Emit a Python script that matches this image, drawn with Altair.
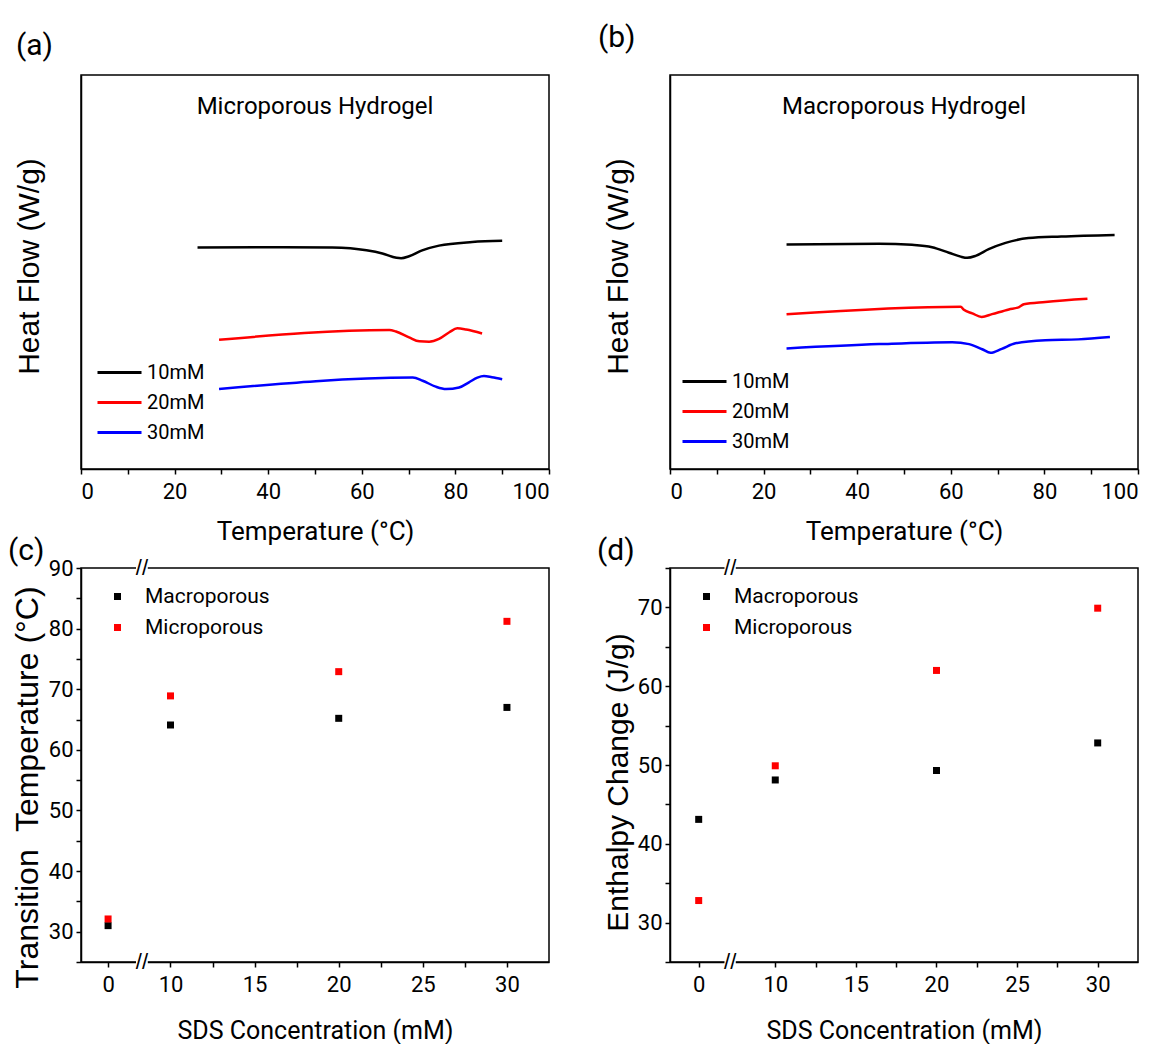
import altair as alt
import pandas as pd

NARROW = "Roboto"
WIDE = "Liberation Sans"

# ---------------- Panel (a): Microporous hydrogel DSC curves ----------------
a10_t = [24.9, 43.1, 53.7, 61.0, 64.4, 67.4, 68.4, 70.1, 72.9, 76.5, 83.6, 90.0]
a10_h = [56.2, 56.3, 56.2, 55.5, 54.7, 53.6, 53.5, 54.0, 55.5, 56.7, 57.6, 57.9]
a20_t = [29.5, 65.9, 67.3, 70.1, 72.3, 74.4, 76.5, 78.7, 80.4, 82.3, 85.7]
a20_h = [32.8, 35.3, 34.9, 33.4, 32.4, 32.3, 33.0, 34.7, 35.7, 35.4, 34.4]
a30_t = [29.5, 70.9, 73.0, 75.8, 78.0, 80.8, 82.9, 84.7, 86.1, 87.8, 90.0]
a30_h = [20.3, 23.2, 22.4, 20.9, 20.3, 20.7, 22.0, 23.2, 23.6, 23.3, 22.8]

# ---------------- Panel (b): Macroporous hydrogel DSC curves ----------------
b10_t = [24.9, 44.7, 51.7, 56.0, 59.6, 62.1, 63.5, 65.3, 68.1, 71.7, 76.6, 83.6, 95.0]
b10_h = [57.0, 57.2, 56.9, 56.3, 54.9, 53.9, 53.6, 54.1, 55.8, 57.4, 58.6, 59.0, 59.4]
b20_t = [24.9, 62.1, 62.8, 64.6, 66.6, 68.8, 72.4, 74.6, 75.6, 80.2, 89.2]
b20_h = [39.3, 41.2, 40.4, 39.5, 38.6, 39.3, 40.5, 41.1, 41.8, 42.4, 43.2]
b30_t = [24.9, 44.7, 60.3, 63.9, 66.7, 68.5, 70.9, 73.8, 80.2, 87.2, 94.0]
b30_h = [30.6, 31.7, 32.2, 31.7, 30.4, 29.5, 30.5, 31.9, 32.7, 32.9, 33.5]

series_names = ["10mM", "20mM", "30mM"]
series_colors = ["#000000", "#ff0000", "#0000ff"]

# ---------------- Panels (c), (d): scatter ----------------
sds = [0, 10, 20, 30]
trans_macro = [31.0, 64.1, 65.2, 67.0]
trans_micro = [32.1, 68.9, 72.9, 81.2]
enth_macro = [43.1, 48.1, 49.3, 52.8]
enth_micro = [32.8, 49.9, 62.0, 69.9]
type_names = ["Macroporous", "Microporous"]
type_colors = ["#000000", "#ff0000"]

W, H = 468, 394


def long_df(pairs):
    rows = []
    for name, ts, hs in pairs:
        for t, h in zip(ts, hs):
            rows.append({"T": t, "H": h, "S": name})
    return pd.DataFrame(rows)


def panel_title(label, dx, offset):
    return alt.TitleParams(label, anchor="start", frame="group", dx=dx, fontSize=30,
                           font=NARROW, fontWeight="normal", offset=offset, color="black")


def dsc_panel(df, inner_title, label, lx, ly, tdx, toff):
    lines = alt.Chart(df).mark_line(strokeWidth=2.5, interpolate="monotone").encode(
        x=alt.X("T:Q", scale=alt.Scale(domain=[0, 100], nice=False),
                axis=alt.Axis(values=list(range(0, 101, 10)),
                              labelExpr="datum.value % 20 == 0 ? datum.label : ''",
                              title="Temperature (°C)", titlePadding=16,
                              titleFont=NARROW, titleFontSize=26)),
        y=alt.Y("H:Q", scale=alt.Scale(domain=[0, 100], nice=False),
                axis=alt.Axis(labels=False, ticks=False, title="Heat Flow (W/g)",
                              titlePadding=37, titleFont=WIDE, titleFontSize=30,
                              titleY=H / 2 - 6)),
        color=alt.Color("S:N", scale=alt.Scale(domain=series_names, range=series_colors),
                        legend=alt.Legend(title=None, orient="none", legendX=lx, legendY=ly,
                                          symbolType="M-2,0H2", symbolSize=484,
                                          symbolStrokeWidth=3, labelFontSize=20,
                                          labelFont=NARROW, rowPadding=7,
                                          labelOffset=15, padding=0)),
        detail="S:N",
    )
    txt = alt.Chart(pd.DataFrame({"t": [inner_title]})).mark_text(
        font=NARROW, fontSize=24, color="black"
    ).encode(text="t:N", x=alt.value(W / 2), y=alt.value(32))
    return alt.layer(lines, txt).properties(width=W, height=H, title=panel_title(label, tdx, toff))


def scatter_panel(macro, micro, x0, xmin, brk, ydom, ytitle, ytitle_size, ytitle_shift,
                  label, tdx):
    df = pd.DataFrame({"conc": sds * 2, "val": macro + micro,
                       "type": [type_names[0]] * 4 + [type_names[1]] * 4})
    xscale = alt.Scale(domain=[xmin, 32.5], nice=False, zero=False)
    xaxis = alt.Axis(values=[x0, 10, 12.5, 15, 17.5, 20, 22.5, 25, 27.5, 30],
                     labelExpr=f"datum.value == {x0} ? '0' : (datum.value % 5 == 0 ? datum.label : '')",
                     title="SDS Concentration (mM)", titlePadding=23,
                     titleFont=NARROW, titleFontSize=25)
    yvals = [v / 2 for v in range(int(ydom[0] * 2), int(ydom[1] * 2) + 1, 10)]
    pts = alt.Chart(df).transform_calculate(
        xpos=f"datum.conc == 0 ? {x0} : datum.conc"
    ).mark_square(size=49, opacity=1).encode(
        x=alt.X("xpos:Q", scale=xscale, axis=xaxis),
        y=alt.Y("val:Q", scale=alt.Scale(domain=ydom, nice=False, zero=False),
                axis=alt.Axis(values=yvals,
                              labelExpr="datum.value % 10 == 0 ? datum.label : ''",
                              title=ytitle, titlePadding=4, titleFont=WIDE,
                              titleFontSize=ytitle_size, titleY=H / 2 + ytitle_shift)),
        color=alt.Color("type:N", scale=alt.Scale(domain=type_names, range=type_colors),
                        legend=alt.Legend(title=None, orient="none", legendX=26, legendY=18,
                                          symbolType="square", symbolSize=49,
                                          symbolStrokeWidth=0, labelFontSize=21,
                                          labelFont=NARROW, rowPadding=9,
                                          labelOffset=17, padding=0)),
    )
    bdf = pd.DataFrame({"b": [brk]})
    gaps = []
    for yv in (0, H):
        gaps.append(alt.Chart(bdf).transform_calculate(
            b1="datum.b - 0.35", b2="datum.b + 0.35"
        ).mark_rule(color="white", strokeWidth=5).encode(
            x=alt.X("b1:Q", scale=xscale, axis=xaxis), x2="b2:Q", y=alt.value(yv)))
        gaps.append(alt.Chart(bdf).mark_text(text="//", fontSize=22, font=WIDE,
                                             color="black").encode(
            x=alt.X("b:Q", scale=xscale, axis=xaxis), y=alt.value(yv)))
    return alt.layer(pts, *gaps).properties(width=W, height=H,
                                            title=panel_title(label, tdx, -9))


pa = dsc_panel(long_df([(series_names[0], a10_t, a10_h), (series_names[1], a20_t, a20_h),
                        (series_names[2], a30_t, a30_h)]),
               "Microporous Hydrogel", "(a)", 26, 285, -65, 14)
pb = dsc_panel(long_df([(series_names[0], b10_t, b10_h), (series_names[1], b20_t, b20_h),
                        (series_names[2], b30_t, b30_h)]),
               "Macroporous Hydrogel", "(b)", 22, 294, -72, 22)
pc = scatter_panel(trans_macro, trans_micro, 6.29, 4.68, 8.3, [25, 90],
                   "Transition\u00a0 Temperature (°C)", 32, 22, "(c)", -73)
pd_ = scatter_panel(enth_macro, enth_micro, 5.25, 3.47, 7.2, [25, 75],
                    "Enthalpy Change (J/g)", 30, 17, "(d)", -73)

chart = alt.concat(pa, pb, pc, pd_, columns=2,
                   spacing={"row": -10, "column": 45}).resolve_scale(
    color="independent"
).configure_view(stroke="black", strokeWidth=1.5).configure_axis(
    domainColor="black", domainWidth=1.5, tickColor="black", tickWidth=1.5,
    tickSize=5, labelColor="black", titleColor="black", labelFont=NARROW,
    labelFontSize=22, titleFontWeight="normal", grid=False,
).configure_axisX(labelPadding=7).configure_axisY(labelPadding=3).configure_legend(
    labelColor="black"
).properties(
    background="white", padding={"left": 7, "top": 22, "right": 0, "bottom": 0}
)

chart.save("out.html", embed_options={"renderer": "svg", "actions": False})
